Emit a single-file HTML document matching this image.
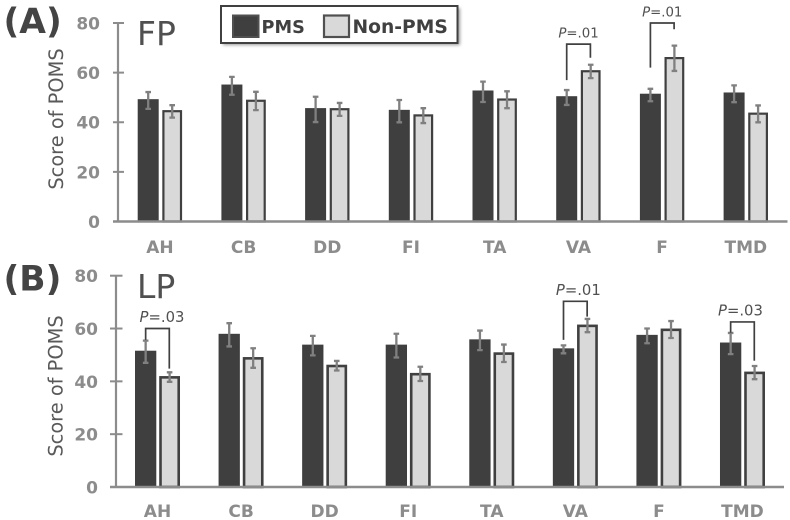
<!DOCTYPE html>
<html lang="en">
<head>
<meta charset="utf-8">
<title>Score of POMS in FP and LP</title>
<style>
html,body{margin:0;padding:0;background:#fff;width:790px;height:520px;overflow:hidden}
svg{display:block;font-family:"DejaVu Sans","Liberation Sans",sans-serif;filter:blur(.35px)}
</style>
</head>
<body>
<svg id="chart" xmlns="http://www.w3.org/2000/svg" width="790" height="520" viewBox="0 0 790 520">
  <defs>
    <filter id="soft" x="-5%" y="-20%" width="110%" height="140%"><feGaussianBlur stdDeviation="1.5"/></filter>
  </defs>
  <rect width="790" height="520" fill="#fff"/>
  <g id="panels"></g>
  <g>
    <rect x="223" y="8" width="237" height="37" fill="#999" filter="url(#soft)"/>
    <rect x="221" y="6" width="236.5" height="37" fill="#fff" stroke="#404040" stroke-width="2"/>
    <rect x="233" y="15.5" width="25.5" height="21.5" fill="#3f3f3f" stroke="#505050" stroke-width="2"/>
    <text x="261.5" y="33" font-size="17.7" font-weight="700" fill="#404040">PMS</text>
    <rect x="324" y="15.5" width="25" height="21.5" fill="#d9d9d9" stroke="#505050" stroke-width="2.2"/>
    <text x="352.5" y="33" font-size="18.7" font-weight="700" fill="#404040">Non-PMS</text>
  </g>
</svg>
<script>
const categories = ['AH', 'CB', 'DD', 'FI', 'TA', 'VA', 'F', 'TMD'];
const yTickLabels = [0, 20, 40, 60, 80];

const fpPms = [49.3, 55.2, 45.7, 45, 52.8, 50.5, 51.5, 52];
const fpNonPms = [44.9, 49.1, 45.7, 43.2, 49.6, 61, 66.3, 43.9];
const fpPmsError = [3.4, 3.6, 5.1, 4.5, 4.1, 3, 2.5, 3.4];
const fpNonPmsError = [2.5, 3.7, 2.6, 3, 3.4, 2.7, 5.1, 3.4];

const lpPms = [51.6, 58, 53.9, 53.9, 55.9, 52.5, 57.6, 54.7];
const lpNonPms = [42, 49.2, 46.3, 43.2, 51, 61.5, 60, 43.7];
const lpPmsError = [4.2, 4.4, 3.7, 4.5, 3.7, 1.5, 2.8, 4];
const lpNonPmsError = [1.8, 3.7, 1.8, 2.7, 3.3, 2.5, 3.2, 2.5];

const fpSigCategories = ['VA', 'F'];
const fpSigLabels = ['.01', '.01'];
const fpSigTop = [71.5, 80];
const fpSigLeftEnd = [57, 62];
const fpSigRightEnd = [66, 77.5];

const lpSigCategories = ['AH', 'VA', 'TMD'];
const lpSigLabels = ['.03', '.01', '.03'];
const lpSigTop = [60, 70.3, 62.5];
const lpSigLeftEnd = [55.7, 55.7, 58.4];
const lpSigRightEnd = [44.8, 64.5, 47.8];

const SVG_NS = 'http://www.w3.org/2000/svg';
const root = document.getElementById('panels');

function make(parent, tag, attrs, text) {
  const el = document.createElementNS(SVG_NS, tag);
  for (const k in attrs) el.setAttribute(k, attrs[k]);
  if (text !== undefined) el.textContent = text;
  parent.appendChild(el);
  return el;
}

function drawPanel(p) {
  const g = make(root, 'g', {});
  
  

  const y = v => p.y0 - v * (p.y0 - p.y80) / 80;
  const darkX = i => p.darkLeft + i * p.step;
  const lightX = i => p.lightLeft + i * p.step;

  const panelLabel = make(g, 'text', {x: 3.5, y: p.tagY, 'font-size': 34.5, 'font-weight': 700, fill: '#444'}, p.tag);
  
  

  const phase = make(g, 'text', {x: 137, y: p.phaseY, 'font-size': 33, fill: '#505050'}, p.phase);
  
  

  const title = make(g, 'text', {
    x: 0, y: 0, 'font-size': 19.4, fill: '#595959', 'text-anchor': 'middle',
    transform: 'translate(' + p.titleX + ' ' + p.titleY + ') rotate(-90)'
  }, 'Score of POMS');
  
  

  const axisY = make(g, 'line', {x1: p.axisX, x2: p.axisX, y1: y(80), y2: y(0), stroke: '#8c8c8c', 'stroke-width': 2.2});
  
  

  yTickLabels.forEach(t => {
    const tick = make(g, 'line', {x1: p.tickLeft, x2: p.tickRight, y1: y(t), y2: y(t), stroke: '#8c8c8c', 'stroke-width': 2});
    
    
    const label = make(g, 'text', {x: p.labelRight, y: y(t) + 6.4, 'font-size': 17, 'font-weight': 700, fill: '#8c8c8c', 'text-anchor': 'end'}, t);
    
    
  });

  categories.forEach((c, i) => {
    const group = make(g, 'g', {});
    
    

    const sw = p.stroke;
    const dark = make(group, 'rect', {
      x: darkX(i) + 0.5, y: y(p.pms[i]) + 0.5, width: p.darkW - 1, height: y(0) - y(p.pms[i]) - 0.5,
      fill: '#3f3f3f', stroke: '#3f3f3f', 'stroke-width': 1
    });
    
    

    const light = make(group, 'rect', {
      x: lightX(i) + sw / 2, y: y(p.non[i]) + sw / 2, width: p.lightW - sw, height: y(0) - y(p.non[i]) - sw / 2,
      fill: '#d9d9d9', stroke: '#404040', 'stroke-width': sw
    });
    
    

    [[darkX(i) + p.darkW / 2, p.pms[i], p.pmsErr[i], 'pms'],
     [lightX(i) + p.lightW / 2, p.non[i], p.nonErr[i], 'non-pms']].forEach(e => {
      const cx = e[0], hi = y(e[1] + e[2]) + p.errDrop, lo = y(e[1] - e[2]) + p.errDrop;
      const err = make(group, 'path', {
        d: 'M' + (cx - 2.8) + ' ' + hi + 'H' + (cx + 2.8) + 'M' + cx + ' ' + hi + 'V' + lo + 'M' + (cx - 2.8) + ' ' + lo + 'H' + (cx + 2.8),
        fill: 'none', stroke: '#808080', 'stroke-width': 2.3
      });
      
      
    });

    const catLabel = make(group, 'text', {
      x: (darkX(i) + lightX(i) + p.lightW) / 2, y: p.catY,
      'font-size': 17, 'font-weight': 700, fill: '#8c8c8c', 'text-anchor': 'middle'
    }, c);
    
    
  });

  const axisX = make(g, 'line', {x1: p.tickLeft, x2: p.axisEnd, y1: y(0), y2: y(0), stroke: '#8c8c8c', 'stroke-width': 2.4});
  
  

  p.sigCats.forEach((c, k) => {
    const i = categories.indexOf(c);
    const lx = darkX(i) + p.darkW / 2;
    const rx = lightX(i) + p.lightW / 2 - 0.3;
    const bracket = make(g, 'path', {
      d: 'M' + lx + ' ' + y(p.sigLeft[k]) + 'V' + y(p.sigTop[k]) + 'H' + rx + 'V' + y(p.sigRight[k]),
      fill: 'none', stroke: '#404040', 'stroke-width': 1.7
    });
    
    

    const shift = p.sigTextShift[c] || 0;
    const sig = make(g, 'text', {
      x: (lx + rx) / 2 + shift, y: y(p.sigTop[k]) - p.sigGap,
      'font-size': p.sigSize, fill: '#505050', 'text-anchor': 'middle'
    });
    
    
    make(sig, 'tspan', {'font-style': 'italic'}, 'P');
    make(sig, 'tspan', {}, '=' + p.sigText[k]);
  });
}

drawPanel({
  key: 'fp', tag: '(A)', phase: 'FP', tagY: 33, phaseY: 45,
  y0: 221.5, y80: 23,
  axisX: 118, tickLeft: 113, tickRight: 124, labelRight: 100, axisEnd: 787.5,
  titleX: 63, titleY: 119, catY: 253,
  darkLeft: 137.7, lightLeft: 162.3, darkW: 21, lightW: 19.8, step: 83.7, stroke: 2.2, errDrop: 1.3,
  pms: fpPms, non: fpNonPms, pmsErr: fpPmsError, nonErr: fpNonPmsError,
  sigCats: fpSigCategories, sigText: fpSigLabels, sigTop: fpSigTop, sigLeft: fpSigLeftEnd, sigRight: fpSigRightEnd,
  sigTextShift: {VA: 0, F: 0}, sigGap: 6.5, sigSize: 13.3
});

drawPanel({
  key: 'lp', tag: '(B)', phase: 'LP', tagY: 290.5, phaseY: 298,
  y0: 487, y80: 275.7,
  axisX: 116, tickLeft: 110, tickRight: 122.5, labelRight: 98, axisEnd: 784,
  titleX: 62.5, titleY: 386, catY: 517,
  darkLeft: 135, lightLeft: 159.2, darkW: 21.3, lightW: 20.8, step: 83.57, stroke: 2.6, errDrop: 1,
  pms: lpPms, non: lpNonPms, pmsErr: lpPmsError, nonErr: lpNonPmsError,
  sigCats: lpSigCategories, sigText: lpSigLabels, sigTop: lpSigTop, sigLeft: lpSigLeftEnd, sigRight: lpSigRightEnd,
  sigTextShift: {AH: 4.5, VA: 3, TMD: -2}, sigGap: 6.5, sigSize: 14.8
});
</script>
</body>
</html>
